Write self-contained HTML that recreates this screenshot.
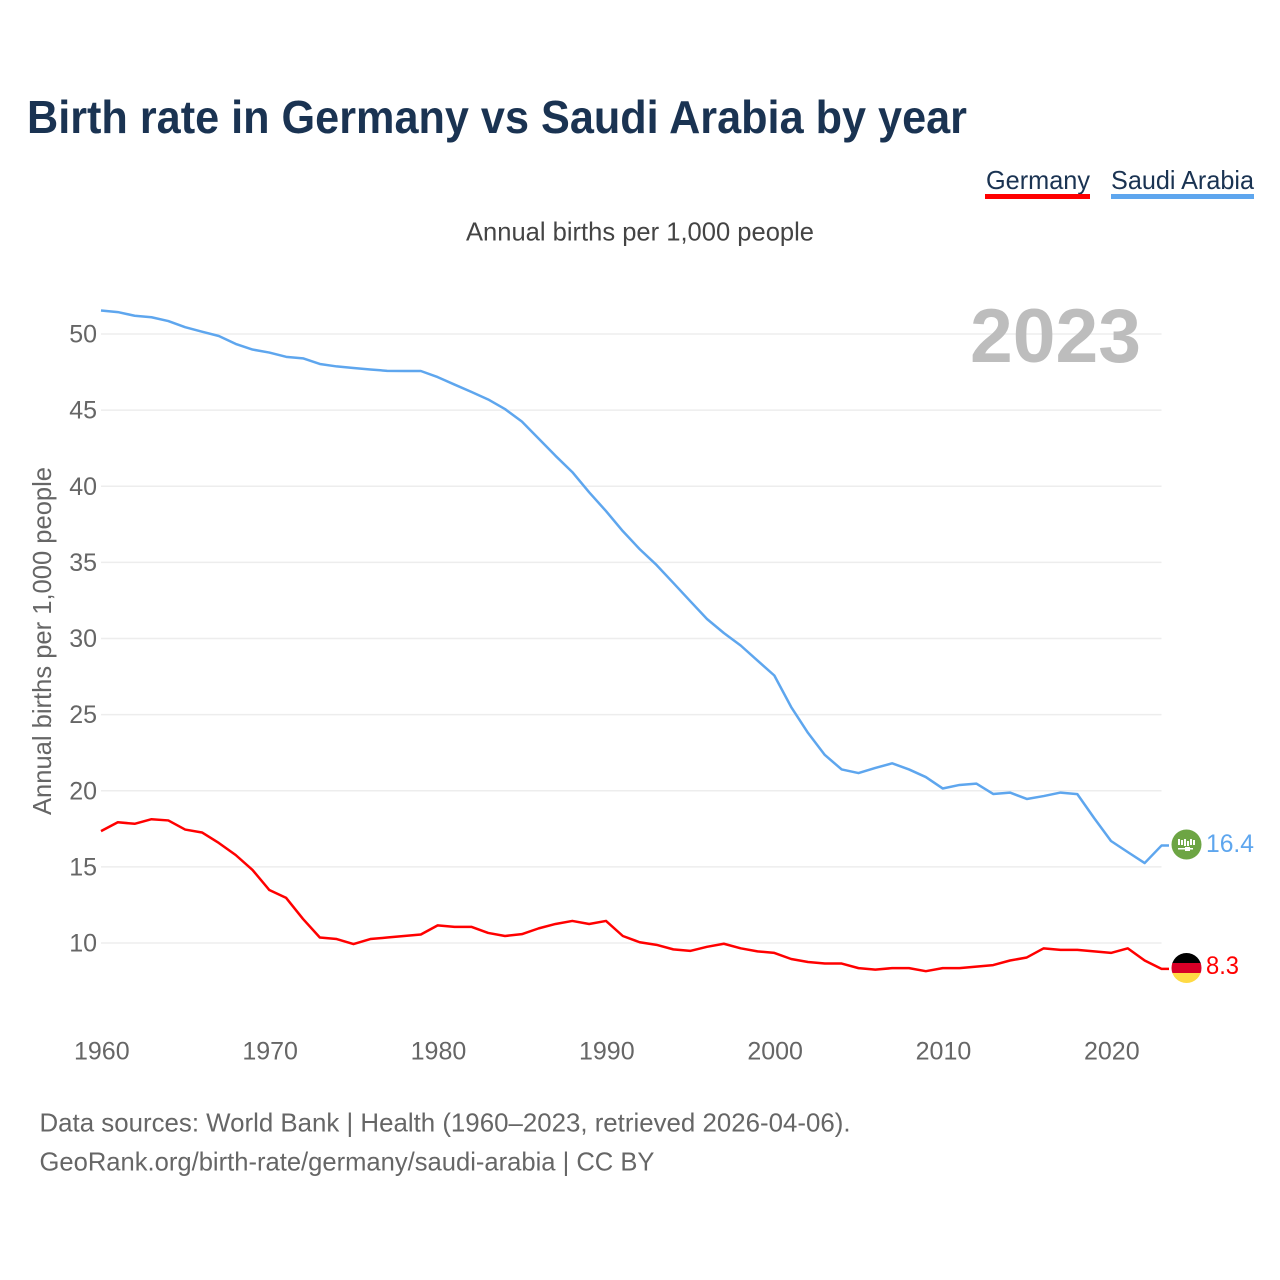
<!DOCTYPE html>
<html lang="en">
<head>
<meta charset="utf-8">
<title>Birth rate in Germany vs Saudi Arabia by year</title>
<style>
html,body{margin:0;padding:0;background:#fff;}
svg{display:block;font-family:"Liberation Sans",sans-serif;}
</style>
</head>
<body>
<svg id="chart" xmlns="http://www.w3.org/2000/svg" width="1280" height="1280" viewBox="0 0 1280 1280">
  <rect x="0" y="0" width="1280" height="1280" fill="#ffffff"/>
  <text x="27" y="133" font-size="46" font-weight="700" fill="#1a3352" textLength="940" lengthAdjust="spacingAndGlyphs">Birth rate in Germany vs Saudi Arabia by year</text>
  <g>
    <text x="986" y="189" font-size="26" fill="#1a3352" textLength="104" lengthAdjust="spacingAndGlyphs">Germany</text>
    <rect x="985" y="194" width="105" height="5" fill="#ff0000"/>
  </g>
  <g>
    <text x="1111" y="189" font-size="26" fill="#1a3352" textLength="143" lengthAdjust="spacingAndGlyphs">Saudi Arabia</text>
    <rect x="1111" y="194" width="143" height="5" fill="#5ea6ee"/>
  </g>
  <text x="466" y="240.5" font-size="26" fill="#444444" textLength="348" lengthAdjust="spacingAndGlyphs">Annual births per 1,000 people</text>
  <g id="grid"></g>
  <g id="yticks"></g>
  <g id="xticks"></g>
  <text transform="translate(51 815) rotate(-90)" x="0" y="0" font-size="26" fill="#666666" textLength="348" lengthAdjust="spacingAndGlyphs">Annual births per 1,000 people</text>
  <text x="970" y="362" font-size="76" font-weight="700" fill="#bdbdbd" textLength="171" lengthAdjust="spacingAndGlyphs">2023</text>
  <g id="series"></g>
  <defs>
    <clipPath id="flag-clip-sa"><circle cx="1186.5" cy="844.5" r="15"/></clipPath>
    <clipPath id="flag-clip-de"><circle cx="1186.5" cy="968" r="15"/></clipPath>
  </defs>
  <g clip-path="url(#flag-clip-sa)">
    <rect x="1171" y="829" width="31" height="31" fill="#6da544"/>
    <g fill="#ffffff">
      <rect x="1178" y="839" width="2" height="6"/>
      <rect x="1181" y="840" width="2" height="5"/>
      <rect x="1184" y="839" width="2" height="7"/>
      <rect x="1187" y="841" width="2" height="5"/>
      <rect x="1190" y="839" width="2" height="6"/>
      <rect x="1193" y="840" width="2" height="5"/>
      <rect x="1178" y="848" width="15" height="1.5"/>
      <rect x="1185" y="847" width="5" height="4"/>
    </g>
  </g>
  <g clip-path="url(#flag-clip-de)">
    <rect x="1171" y="953" width="31" height="11" fill="#000000"/>
    <rect x="1171" y="963" width="31" height="10.5" fill="#d80027"/>
    <rect x="1171" y="973" width="31" height="11" fill="#ffda44"/>
  </g>
  <text x="1206" y="852" font-size="25" fill="#5ea6ee" textLength="48" lengthAdjust="spacingAndGlyphs">16.4</text>
  <text x="1206" y="974" font-size="25" fill="#ff0000" textLength="33" lengthAdjust="spacingAndGlyphs">8.3</text>
  <text x="39.5" y="1131.5" font-size="26" fill="#666666" textLength="811" lengthAdjust="spacingAndGlyphs">Data sources: World Bank | Health (1960–2023, retrieved 2026-04-06).</text>
  <text x="39.5" y="1170.5" font-size="26" fill="#666666" textLength="615" lengthAdjust="spacingAndGlyphs">GeoRank.org/birth-rate/germany/saudi-arabia | CC BY</text>
</svg>
<script>
const startYear = 1960;
const xTickYears = [1960, 1970, 1980, 1990, 2000, 2010, 2020];
const yTickValues = [10, 15, 20, 25, 30, 35, 40, 45, 50];
const germanyValues = [17.35,17.93,17.83,18.13,18.05,17.45,17.26,16.57,15.78,14.8,13.48,12.96,11.58,10.36,10.26,9.93,10.26,10.36,10.46,10.56,11.16,11.06,11.06,10.66,10.46,10.58,10.96,11.25,11.45,11.25,11.45,10.46,10.05,9.88,9.58,9.48,9.75,9.95,9.65,9.45,9.35,8.95,8.75,8.65,8.65,8.35,8.25,8.35,8.35,8.15,8.35,8.35,8.45,8.55,8.85,9.05,9.65,9.55,9.55,9.45,9.35,9.65,8.85,8.3];
const saudiValues = [51.54,51.44,51.2,51.1,50.85,50.45,50.15,49.87,49.35,48.98,48.78,48.5,48.4,48.03,47.87,47.77,47.67,47.58,47.57,47.57,47.17,46.68,46.2,45.7,45.07,44.25,43.13,42.0,40.93,39.6,38.37,37.05,35.87,34.83,33.65,32.46,31.28,30.36,29.54,28.55,27.57,25.5,23.8,22.35,21.4,21.16,21.5,21.8,21.4,20.9,20.15,20.38,20.47,19.79,19.88,19.46,19.65,19.88,19.78,18.2,16.7,15.97,15.25,16.4];

const NS = 'http://www.w3.org/2000/svg';
const xScale = function (year) { return 101 + (year - 1960) * (1060.5 / 63); };
const yScale = function (value) { return 943 - (value - 10) * 15.225; };

function make(tag, attrs, parent, text) {
  const el = document.createElementNS(NS, tag);
  Object.keys(attrs).forEach(function (k) { el.setAttribute(k, attrs[k]); });
  if (text !== undefined) el.textContent = text;
  parent.appendChild(el);
  return el;
}

const grid = document.getElementById('grid');
const yticks = document.getElementById('yticks');
const xticks = document.getElementById('xticks');
const series = document.getElementById('series');

yTickValues.forEach(function (v) {
  const line = make('line', { x1: 101, x2: 1161.5, y1: yScale(v), y2: yScale(v), stroke: '#ededed', 'stroke-width': 1.5 }, grid);
  
  
  const label = make('text', { x: 97, y: yScale(v) + 8.5, 'font-size': 25, fill: '#666666', 'text-anchor': 'end' }, yticks, String(v));
  
  
});

xTickYears.forEach(function (yr) {
  const label = make('text', { x: xScale(yr) + 0.8, y: 1059.5, 'font-size': 25, fill: '#666666', 'text-anchor': 'middle' }, xticks, String(yr));
  
  
});

function linePath(values) {
  const pts = values.map(function (v, i) {
    return xScale(startYear + i).toFixed(2) + ',' + yScale(v).toFixed(2);
  });
  const last = values[values.length - 1];
  pts.push('1169,' + yScale(last).toFixed(2));
  return 'M' + pts.join('L');
}

const germanyLine = make('path', { d: linePath(germanyValues), fill: 'none', stroke: '#ff0000', 'stroke-width': 2.5, 'stroke-linejoin': 'round' }, series);



const saudiLine = make('path', { d: linePath(saudiValues), fill: 'none', stroke: '#5ea6ee', 'stroke-width': 2.5, 'stroke-linejoin': 'round' }, series);


</script>
</body>
</html>
